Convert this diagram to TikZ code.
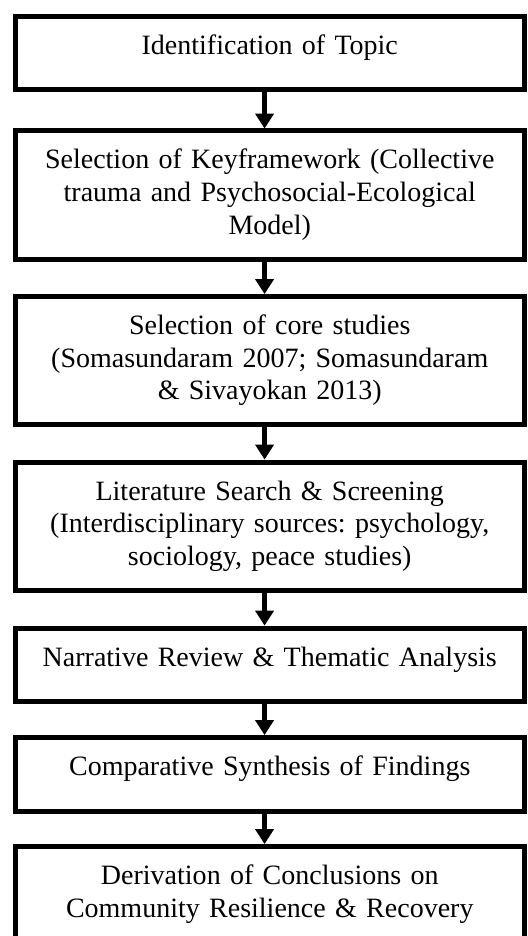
\documentclass[tikz,border=0pt]{standalone}
\usepackage{fontspec}
\setmainfont{Liberation Serif}
\usetikzlibrary{arrows.meta}
\frenchspacing

\tikzset{
 stepbox/.style={draw, line width=2.5pt, outer sep=0pt, inner xsep=0pt, inner ysep=0pt,
  minimum width=254.25pt, text width=246pt, align=center, anchor=north,
  font=\fontsize{14}{16.3}\selectfont, text height=19pt},
 shortbox/.style={stepbox, text depth=17.75pt},
 tallbox/.style={stepbox, text depth=45pt},
 flow/.style={line width=2.2pt, shorten >=1.2pt, -{Triangle[width=9pt,length=7.5pt]}}
}

\begin{document}
\begin{tikzpicture}[x=1pt,y=-1pt]

 \def\cx{134.875} \def\ax{-2.6pt}
 \clip (0,0) rectangle (263.5,468);

 % steps
 \node[shortbox] (topic) at (\cx,8.25) {Identification of Topic};
 \node[tallbox] (framework) at (\cx,65.5) {Selection of Keyframework (Collective\\ trauma and Psychosocial-Ecological\\ Model)};
 \node[tallbox] (core) at (\cx,148.25) {Selection of core studies\\ (Somasundaram 2007; Somasundaram\\ \& Sivayokan 2013)};
 \node[tallbox] (search) at (\cx,231) {Literature Search \& Screening\\ (Interdisciplinary sources: psychology,\\ sociology, peace studies)};
 \node[shortbox] (review) at (\cx,314) {Narrative Review \& Thematic Analysis};
 \node[shortbox] (synthesis) at (\cx,368.75) {Comparative Synthesis of Findings};
 \node[tallbox] (conclusion) at (\cx,423.25) {Derivation of Conclusions on\\ Community Resilience \& Recovery};

 % arrows
 \foreach \a/\b in {topic/framework, framework/core, core/search, search/review, review/synthesis, synthesis/conclusion}
  \draw[flow] ([xshift=\ax]\a.south) -- ([xshift=\ax]\b.north);

\end{tikzpicture}
\end{document}
